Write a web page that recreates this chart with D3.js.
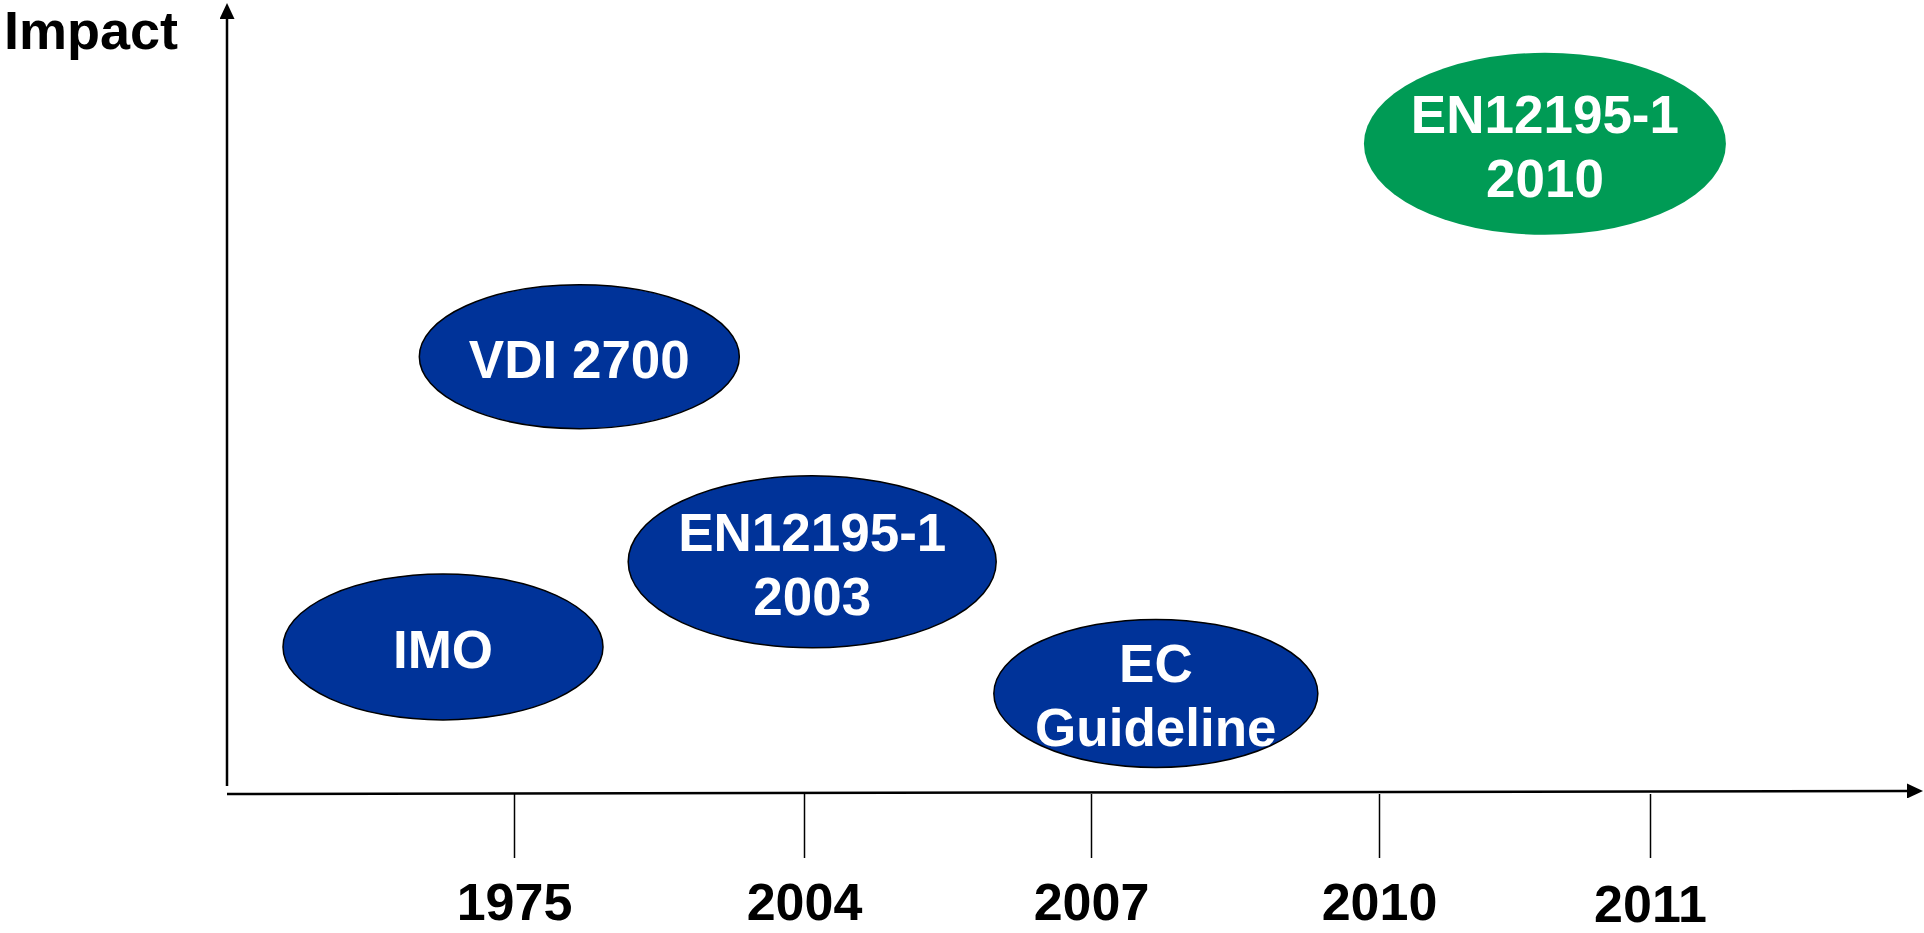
<!DOCTYPE html>
<html>
<head>
<meta charset="utf-8">
<script src="https://cdn.jsdelivr.net/npm/d3@7"></script>
<style>
  body { margin: 0; background: #fff; }
  text { font-family: "Liberation Sans", Arial, sans-serif; font-weight: bold; }
</style>
</head>
<body>
<script>
// tick labels on the time axis
const years = ["1975", "2004", "2007", "2010", "2011"]

// the standards, placed by position along the time axis (in tick units) and impact
const names = [["IMO"], ["VDI 2700"], ["EN12195-1", "2003"], ["EC", "Guideline"], ["EN12195-1", "2010"]]
const timePos = [-0.25, 0.23, 1.05, 2.26, 3.63]
const impact = [1.9, 5.65, 3.0, 1.3, 8.4]
const status = ["earlier", "earlier", "earlier", "earlier", "current"]

// ellipse sizes (layout only)
const radiusX = [160, 160, 184, 162, 181]
const radiusY = [73, 72, 86, 74, 91]

const width = 1924
const height = 933
const axisY = 794
const axisX = 227

// ticks are not quite evenly spaced in the original
const x = d3.scaleOrdinal()
    .domain(years)
    .range([514, 804, 1091, 1379, 1650])
const xPos = d3.scaleLinear()
    .domain([0, years.length - 1])
    .range([514, 1650])
const y = d3.scaleLinear()
    .domain([0, 10])
    .range([axisY, 20])
const color = d3.scaleOrdinal()
    .domain(["earlier", "current"])
    .range(["#003399", "#009B55"])

const svg = d3.select("body").append("svg")
    .attr("viewBox", [0, 0, width, height])
    .attr("width", width + "px")
    .attr("height", height + "px")

svg.append("defs").append("marker")
    .attr("id", "arrow")
    .attr("viewBox", "0 0 16 15")
    .attr("refX", 0)
    .attr("refY", 7.5)
    .attr("markerWidth", 16)
    .attr("markerHeight", 15)
    .attr("markerUnits", "userSpaceOnUse")
    .attr("orient", "auto")
  .append("path")
    .attr("d", "M0,0L16,7.5L0,15Z")
    .attr("fill", "#000")

// vertical axis
svg.append("line")
    .attr("x1", axisX).attr("y1", 786)
    .attr("x2", axisX).attr("y2", 19)
    .attr("stroke", "#000")
    .attr("stroke-width", 2.5)
    .attr("marker-end", "url(#arrow)")

// horizontal axis (slightly tilted as in the original)
svg.append("line")
    .attr("x1", axisX).attr("y1", axisY)
    .attr("x2", 1907).attr("y2", axisY - 3)
    .attr("stroke", "#000")
    .attr("stroke-width", 2.5)
    .attr("marker-end", "url(#arrow)")

const xAxis = g => g
    .attr("transform", `translate(0,${axisY})`)
    .call(d3.axisBottom(x).tickSize(64).tickPadding(26))
    .call(g => g.select(".domain").remove())
    .call(g => g.selectAll(".tick line").attr("stroke", "#000").attr("stroke-width", 1.5))
    .call(g => g.selectAll(".tick text")
        .attr("fill", "#000")
        .attr("font-size", 52)
        .attr("font-family", "Liberation Sans, Arial, sans-serif")
        .attr("font-weight", "bold")
        .attr("y", d => d === "2011" ? 91 : 89))

svg.append("g").call(xAxis)

svg.append("text")
    .attr("x", 4)
    .attr("y", 49)
    .attr("font-size", 54)
    .attr("fill", "#000")
    .text("Impact")

const items = names.map((n, i) => ({
  lines: n, t: timePos[i], v: impact[i], s: status[i], rx: radiusX[i], ry: radiusY[i]
}))

const g = svg.append("g")
  .selectAll("g")
  .data(items)
  .join("g")
    .attr("transform", d => `translate(${xPos(d.t)},${y(d.v)})`)

g.append("ellipse")
    .attr("rx", d => d.rx)
    .attr("ry", d => d.ry)
    .attr("fill", d => color(d.s))
    .attr("stroke", d => d.s === "current" ? "none" : "#000")
    .attr("stroke-width", 1.5)

g.append("text")
    .attr("text-anchor", "middle")
    .attr("fill", "#fff")
    .attr("font-size", 53)
  .selectAll("tspan")
  .data(d => d.lines.map((l, i) => ({l, i, n: d.lines.length})))
  .join("tspan")
    .attr("x", 0)
    .attr("y", d => (d.i - (d.n - 1) / 2) * 64 + 2)
    .attr("dy", "0.36em")
    .text(d => d.l)
</script>
</body>
</html>
